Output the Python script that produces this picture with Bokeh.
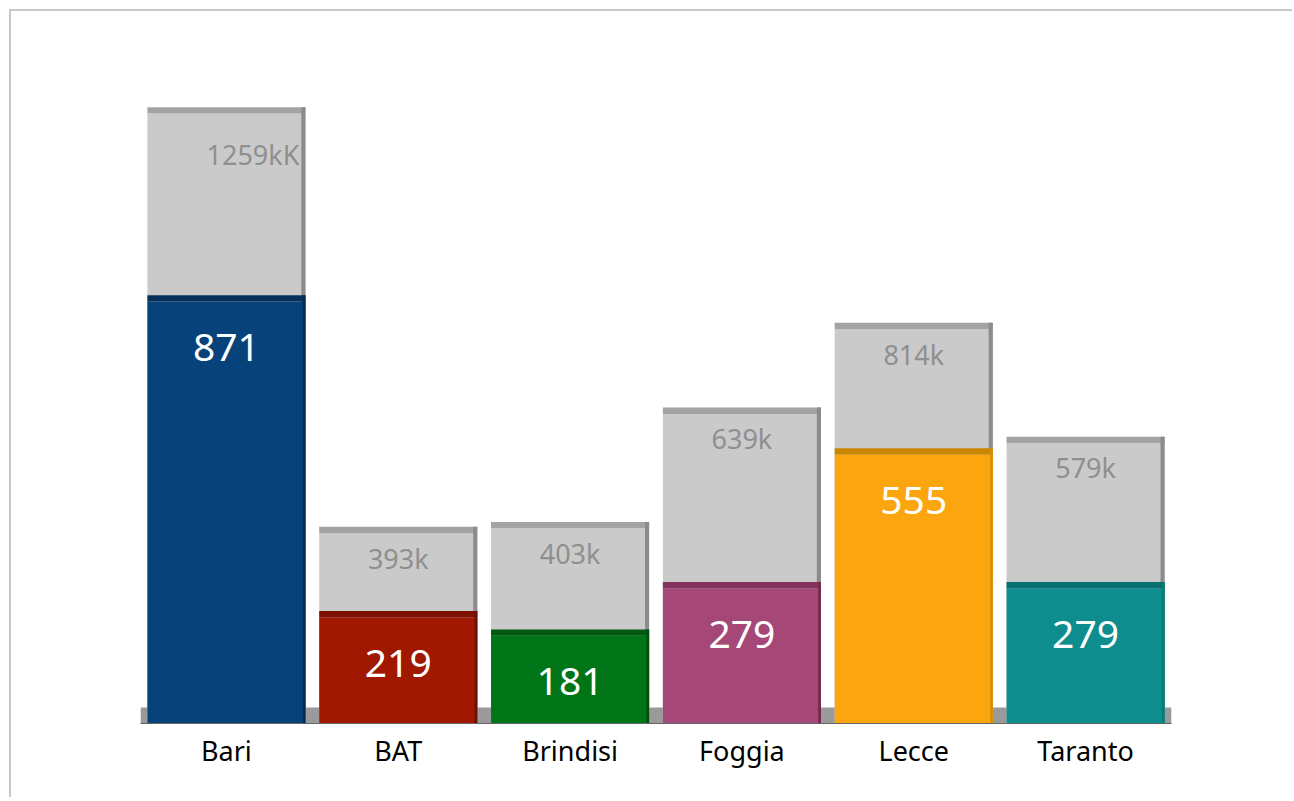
from bokeh.plotting import figure
from bokeh.models import ColumnDataSource, Range1d, BoxAnnotation
from bokeh.transform import dodge
from bokeh.core.properties import value
from bokeh.embed import file_html
from bokeh.resources import INLINE

# ---- data ----
cats = ["Bari", "BAT", "Brindisi", "Foggia", "Lecce", "Taranto"]
totals = [1259, 393, 403, 639, 814, 579]
values = [871, 219, 181, 279, 555, 279]
total_labels = ["1259kK", "393k", "403k", "639k", "814k", "579k"]
value_labels = ["871", "219", "181", "279", "555", "279"]
colors = ["#08427a", "#a11800", "#007518", "#a64877", "#fba60f", "#0d8d8d"]
top_colors = ["#05305c", "#7d1100", "#005a12", "#82325b", "#c98600", "#087070"]
side_colors = ["#052b52", "#6e0f00", "#004f10", "#74294f", "#d88f05", "#077a7a"]

DEPTH = 13  # thickness of the 3D top face, in value units

src = ColumnDataSource(dict(
    cats=cats,
    totals=totals,
    totals_top=[t + DEPTH for t in totals],
    values=values,
    values_top=[v + DEPTH for v in values],
    total_labels=total_labels,
    value_labels=value_labels,
    colors=colors,
    top_colors=top_colors,
    side_colors=side_colors,
))

p = figure(
    x_range=cats,
    y_range=Range1d(0, 1449),
    width=1283, height=788,
    output_backend="svg", toolbar_location=None,
    y_axis_location=None,
    min_border_left=129, min_border_right=123,
    min_border_top=10, min_border_bottom=76,
    background_fill_color="white", border_fill_color="white",
    outline_line_color=None,
    styles={"border-top": "2px solid #c8c8c8", "border-left": "2px solid #c8c8c8",
            "margin-left": "9px", "margin-top": "9px"},
)
p.x_range.range_padding = 0
p.xgrid.visible = False
p.ygrid.visible = False

# floor of the 3D chart
p.add_layout(BoxAnnotation(bottom=0, top=33, fill_color="#9a9a9a", fill_alpha=1.0,
                           line_color=None, level="underlay"))

BW = 0.92
# grey background (total) bars
p.vbar(x="cats", top="totals", bottom=0, width=BW, source=src,
       fill_color="#cacaca", line_color=None)
p.vbar(x="cats", top="totals_top", bottom="totals", width=BW, source=src,
       fill_color="#a3a3a3", line_color=None)
p.vbar(x=dodge("cats", 0.448, range=p.x_range), top="totals_top", bottom=0, width=0.024,
       source=src, fill_color="#8c8c8c", line_color=None)

# coloured front bars
p.vbar(x="cats", top="values", bottom=0, width=BW, source=src,
       fill_color="colors", line_color=None)
p.vbar(x="cats", top="values_top", bottom="values", width=BW, source=src,
       fill_color="top_colors", line_color=None)
p.vbar(x=dodge("cats", 0.452, range=p.x_range), top="values_top", bottom=0, width=0.016,
       source=src, fill_color="side_colors", line_color=None)

# labels on grey bars
first = ColumnDataSource(dict(cats=cats[:1], totals=totals[:1], total_labels=total_labels[:1]))
rest = ColumnDataSource(dict(cats=cats[1:], totals=totals[1:], total_labels=total_labels[1:]))
p.text(x="cats", y="totals", text="total_labels", source=rest,
       text_align="center", text_baseline="middle", y_offset=25,
       text_color="#8f8f8f", text_font=value("Noto Sans"), text_font_size="27px")
p.text(x="cats", y="totals", text="total_labels", source=first,
       text_align="right", text_baseline="middle", x_offset=73, y_offset=41,
       text_color="#8f8f8f", text_font=value("Noto Sans"), text_font_size="27px")

# labels on coloured bars
p.text(x="cats", y="values", text="value_labels", source=src,
       text_align="center", text_baseline="middle", y_offset=46,
       text_color="white", text_font=value("Noto Sans"), text_font_size="39px")

ax = p.xaxis[0]
ax.axis_line_color = "#666666"
ax.axis_line_width = 1
ax.major_tick_line_color = None
ax.minor_tick_line_color = None
ax.major_tick_out = 0
ax.major_tick_in = 0
ax.major_label_standoff = 8
ax.major_label_text_font = "Noto Sans"
ax.major_label_text_font_size = "27px"
ax.major_label_text_color = "black"

open("out.html", "w").write(file_html(p, INLINE))
